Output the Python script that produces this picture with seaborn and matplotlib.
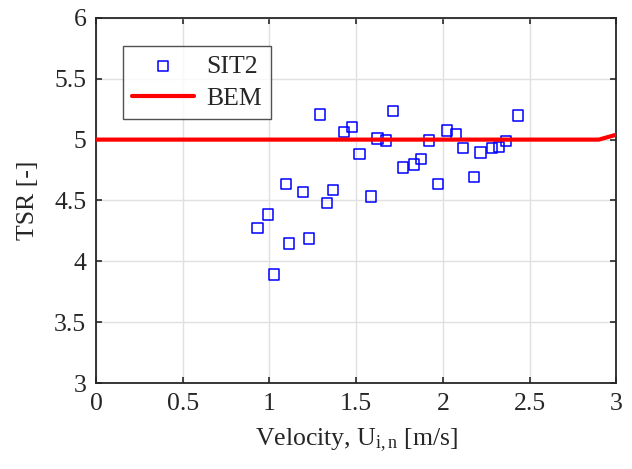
import matplotlib
matplotlib.use("Agg")
import matplotlib.pyplot as plt
import seaborn as sns
import pandas as pd

sit2_velocity = [0.931, 0.992, 1.025, 1.095, 1.112, 1.195, 1.229, 1.293, 1.330, 1.368,
                 1.429, 1.476, 1.519, 1.586, 1.624, 1.671, 1.711, 1.771, 1.835, 1.873,
                 1.919, 1.973, 2.025, 2.077, 2.118, 2.179, 2.218, 2.285, 2.326, 2.366, 2.432]
sit2_tsr = [4.277, 4.385, 3.893, 4.633, 4.146, 4.568, 4.189, 5.206, 4.478, 4.589,
            5.062, 5.103, 4.880, 4.532, 5.008, 4.992, 5.237, 4.772, 4.796, 4.839,
            4.992, 4.638, 5.076, 5.046, 4.929, 4.695, 4.894, 4.929, 4.937, 4.986, 5.198]

bem_velocity = [0.0, 0.5, 1.0, 1.5, 2.0, 2.5, 2.9, 3.0]
bem_tsr = [5.0, 5.0, 5.0, 5.0, 5.0, 5.0, 5.0, 5.04]

sns.set_style("white")
plt.rcParams['font.family'] = ['Liberation Serif', 'DejaVu Serif']
plt.rcParams['mathtext.fontset'] = 'custom'
plt.rcParams['mathtext.rm'] = 'Liberation Serif'
plt.rcParams['mathtext.it'] = 'Liberation Serif'

FS = 18.5
fig = plt.figure(figsize=(6.32, 4.69), dpi=100)
ax = fig.add_axes([0.152, 0.183, 0.823, 0.779])

df_sit = pd.DataFrame({"v": sit2_velocity, "tsr": sit2_tsr})
df_bem = pd.DataFrame({"v": bem_velocity, "tsr": bem_tsr})

sns.scatterplot(data=df_sit, x="v", y="tsr", ax=ax, marker="s", s=55,
                facecolors="none", edgecolor="#0000ff", linewidth=1.1,
                label="SIT2", zorder=3)
sns.lineplot(data=df_bem, x="v", y="tsr", ax=ax, color="#ff0000", linewidth=3,
             label="BEM", zorder=4)

ax.set_xlim(0, 3)
ax.set_ylim(3, 6)
ax.set_xticks([0, 0.5, 1, 1.5, 2, 2.5, 3])
ax.set_xticklabels(["0", "0.5", "1", "1.5", "2", "2.5", "3"])
ax.set_yticks([3, 3.5, 4, 4.5, 5, 5.5, 6])
ax.set_yticklabels(["3", "3.5", "4", "4.5", "5", "5.5", "6"])
ax.grid(True, color="#e0e0e0", linewidth=1)
ax.set_axisbelow(True)
ax.tick_params(direction="in", length=4, width=1.2, labelsize=FS, colors="#262626",
               top=True, right=True, bottom=True, left=True, pad=7)
for sp in ax.spines.values():
    sp.set_color("#262626")
    sp.set_linewidth(1.3)

ax.set_xlabel(r"Velocity, U$_{\mathrm{i,n}}$ [m/s]", fontsize=FS, color="#262626", labelpad=8)
ax.set_ylabel("TSR [-]", fontsize=FS, color="#262626", labelpad=11)

leg = ax.legend(loc="upper left", bbox_to_anchor=(0.052, 0.924), fontsize=FS,
                frameon=True, fancybox=False, edgecolor="#262626",
                handlelength=2.4, borderpad=0.35, labelspacing=0.35, markerscale=1.0,
                handletextpad=0.5, borderaxespad=0)
leg.get_frame().set_linewidth(1.0)

fig.savefig("out.png", dpi=100)
